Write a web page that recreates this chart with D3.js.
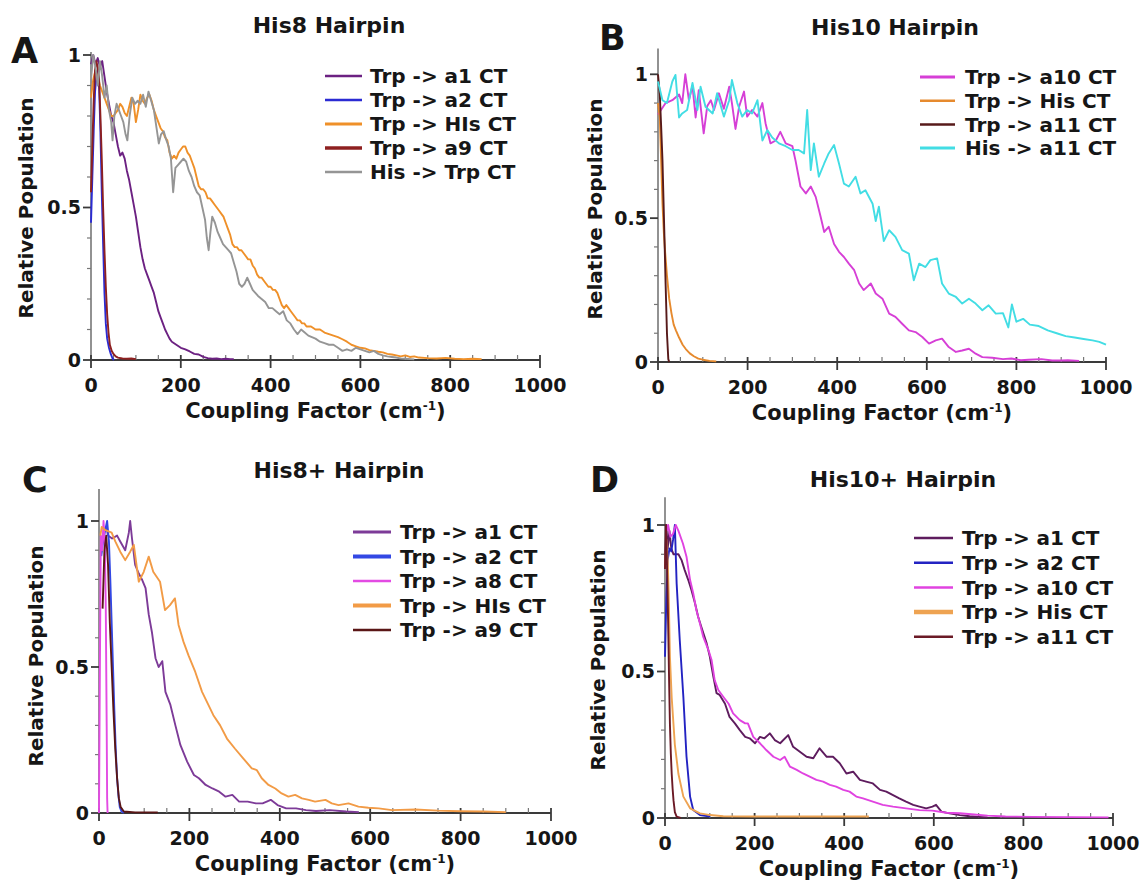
<!DOCTYPE html>
<html><head><meta charset="utf-8">
<script src="https://cdn.jsdelivr.net/npm/d3@7"></script>
<style>
body{margin:0;background:#fff;}
text{font-family:"DejaVu Sans",sans-serif;font-weight:bold;fill:#161616;}
</style></head><body>
<svg id="chart" width="1145" height="885"></svg>
<script>
// ---------------- DATA ----------------
const panelTitles = ["His8 Hairpin", "His10 Hairpin", "His8+ Hairpin", "His10+ Hairpin"];
const panelLetters = ["A", "B", "C", "D"];
const xTickValues = [0, 200, 400, 600, 800, 1000];
const xTickLabels = ["0", "200", "400", "600", "800", "1000"];
const yTickValues = [0, 0.5, 1];
const yTickLabels = ["0", "0.5", "1"];
const xAxisTitle = "Coupling Factor (cm";
const xAxisSup = "-1";
const yAxisTitle = "Relative Population";

const namesA = ["Trp -> a1 CT", "Trp -> a2 CT", "Trp -> HIs CT", "Trp -> a9 CT", "His -> Trp CT"];
const namesB = ["Trp -> a10 CT", "Trp -> His CT", "Trp -> a11 CT", "His -> a11 CT"];
const namesC = ["Trp -> a1 CT", "Trp -> a2 CT", "Trp -> a8 CT", "Trp -> HIs CT", "Trp -> a9 CT"];
const namesD = ["Trp -> a1 CT", "Trp -> a2 CT", "Trp -> a10 CT", "Trp -> His CT", "Trp -> a11 CT"];

// Panel A: [coupling factor, relative population]
const A_a1 = [[0,0.97],[5,1.0],[10,0.97],[15,0.99],[20,0.96],[25,0.98],[30,0.93],[35,0.88],[40,0.84],[45,0.8],[50,0.78],[55,0.74],[60,0.7],[65,0.67],[70,0.68],[75,0.66],[80,0.62],[85,0.59],[90,0.55],[95,0.51],[100,0.47],[105,0.42],[110,0.37],[115,0.33],[120,0.3],[125,0.28],[130,0.26],[135,0.24],[140,0.22],[145,0.19],[150,0.16],[155,0.14],[160,0.12],[165,0.1],[170,0.085],[175,0.07],[180,0.06],[185,0.055],[190,0.05],[195,0.045],[200,0.04],[210,0.035],[220,0.028],[230,0.02],[240,0.018],[250,0.01],[260,0.006],[270,0.004],[280,0.005],[290,0.003],[300,0.004],[310,0.003],[318,0.003]];
const A_a2 = [[0,0.45],[3,0.6],[6,0.75],[9,0.88],[12,0.93],[15,0.95],[18,0.9],[21,0.75],[24,0.55],[27,0.38],[30,0.22],[33,0.12],[36,0.07],[40,0.04],[44,0.02],[48,0.005],[51,0]];
const A_his = [[0,0.86],[5,0.92],[10,0.95],[15,0.93],[20,0.9],[25,0.88],[30,0.86],[35,0.84],[40,0.82],[45,0.8],[50,0.8],[55,0.81],[60,0.82],[65,0.84],[70,0.83],[75,0.81],[80,0.8],[85,0.83],[90,0.86],[95,0.84],[100,0.78],[105,0.82],[110,0.87],[115,0.85],[120,0.84],[125,0.86],[130,0.87],[135,0.85],[140,0.82],[145,0.8],[150,0.78],[155,0.76],[160,0.75],[165,0.73],[170,0.72],[175,0.68],[180,0.66],[185,0.67],[190,0.66],[195,0.68],[200,0.69],[205,0.7],[210,0.7],[215,0.68],[220,0.67],[225,0.65],[230,0.63],[235,0.6],[240,0.57],[245,0.56],[250,0.56],[255,0.55],[260,0.53],[265,0.53],[270,0.52],[275,0.51],[280,0.5],[285,0.49],[290,0.48],[295,0.47],[300,0.45],[305,0.43],[310,0.41],[315,0.38],[320,0.37],[325,0.37],[330,0.36],[335,0.36],[340,0.35],[345,0.34],[350,0.33],[355,0.33],[360,0.31],[365,0.3],[370,0.28],[375,0.27],[380,0.27],[385,0.26],[390,0.25],[395,0.24],[400,0.24],[405,0.23],[410,0.23],[415,0.22],[420,0.2],[425,0.18],[430,0.17],[435,0.18],[440,0.17],[445,0.16],[450,0.15],[455,0.14],[460,0.13],[465,0.13],[470,0.12],[475,0.12],[480,0.11],[490,0.11],[500,0.1],[510,0.1],[520,0.09],[530,0.085],[540,0.08],[550,0.075],[560,0.068],[570,0.06],[580,0.05],[590,0.045],[600,0.04],[610,0.038],[620,0.032],[630,0.03],[640,0.027],[650,0.025],[660,0.02],[670,0.018],[680,0.015],[690,0.012],[700,0.015],[710,0.01],[720,0.012],[730,0.008],[750,0.006],[770,0.005],[790,0.007],[810,0.004],[830,0.003],[850,0.004],[870,0.003]];
const A_a9 = [[0,0.55],[3,0.7],[6,0.85],[9,0.95],[12,0.98],[15,0.96],[18,0.92],[21,0.8],[24,0.66],[27,0.5],[30,0.36],[33,0.24],[36,0.15],[39,0.09],[42,0.05],[46,0.03],[50,0.02],[55,0.012],[60,0.008],[70,0.005],[80,0.004],[90,0.005],[100,0.003]];
const A_hisTrp = [[0,0.92],[5,1.0],[10,0.96],[15,0.9],[20,0.98],[25,0.93],[30,0.86],[35,0.9],[40,0.82],[45,0.78],[48,0.72],[52,0.8],[57,0.84],[62,0.82],[67,0.8],[72,0.78],[77,0.74],[81,0.72],[86,0.8],[92,0.86],[98,0.84],[104,0.85],[110,0.84],[116,0.87],[122,0.83],[128,0.88],[134,0.85],[140,0.82],[146,0.76],[151,0.71],[156,0.74],[162,0.75],[168,0.72],[173,0.7],[178,0.66],[183,0.55],[188,0.63],[194,0.64],[200,0.65],[206,0.66],[212,0.65],[218,0.62],[224,0.6],[230,0.57],[236,0.55],[242,0.54],[248,0.5],[254,0.46],[258,0.4],[262,0.36],[266,0.42],[270,0.47],[276,0.45],[282,0.42],[288,0.4],[294,0.38],[300,0.37],[306,0.36],[312,0.35],[318,0.32],[324,0.29],[330,0.25],[336,0.24],[342,0.25],[348,0.27],[354,0.25],[360,0.23],[366,0.22],[372,0.21],[380,0.2],[388,0.19],[396,0.17],[404,0.17],[412,0.16],[420,0.15],[428,0.16],[436,0.13],[444,0.12],[452,0.1],[460,0.085],[468,0.1],[476,0.09],[484,0.08],[492,0.075],[500,0.07],[510,0.06],[520,0.055],[530,0.05],[540,0.05],[550,0.04],[560,0.03],[570,0.035],[580,0.03],[590,0.04],[600,0.035],[610,0.03],[620,0.025],[630,0.03],[640,0.02],[650,0.015],[660,0.012],[670,0.01],[680,0.008],[690,0.005],[700,0.004],[720,0.002]];

// Panel B
const B_a10 = [[0,0.86],[17,0.9],[32,0.91],[47,0.93],[54,0.9],[61,1.0],[69,0.91],[77,0.96],[84,0.85],[91,0.945],[102,0.795],[110,0.89],[118,0.91],[125,0.876],[136,0.934],[147,0.88],[159,0.957],[165,0.9],[173,0.81],[181,0.887],[192,0.94],[199,0.853],[210,0.876],[222,0.853],[233,0.9],[240,0.83],[251,0.76],[263,0.77],[273,0.8],[285,0.76],[300,0.75],[307,0.7],[318,0.61],[330,0.586],[341,0.61],[352,0.574],[363,0.505],[371,0.452],[381,0.47],[393,0.41],[404,0.383],[415,0.365],[426,0.342],[438,0.319],[449,0.273],[459,0.25],[475,0.273],[486,0.238],[501,0.22],[516,0.168],[530,0.157],[545,0.133],[560,0.11],[575,0.104],[590,0.087],[605,0.064],[620,0.075],[634,0.081],[649,0.052],[665,0.035],[679,0.04],[694,0.046],[709,0.029],[724,0.017],[746,0.015],[770,0.01],[789,0.012],[810,0.006],[827,0.008],[856,0.01],[880,0.005],[901,0.005],[915,0.006],[940,0.004]];
const B_his = [[0,0.9],[4,0.85],[7,0.7],[10,0.55],[13,0.45],[16,0.38],[20,0.3],[25,0.22],[30,0.17],[35,0.13],[40,0.11],[47,0.085],[55,0.06],[62,0.045],[71,0.03],[80,0.02],[90,0.012],[100,0.008],[115,0.004],[130,0.002]];
const B_a11 = [[0,1.0],[4,0.93],[7,0.82],[10,0.7],[14,0.46],[17,0.27],[20,0.1],[23,0.01],[25,0]];
const B_hisA11 = [[0,0.975],[10,0.91],[20,0.9],[32,0.975],[39,0.998],[47,0.85],[54,0.864],[65,0.876],[77,0.97],[88,0.876],[95,0.957],[106,0.887],[122,0.864],[132,0.934],[147,0.853],[159,0.91],[165,0.98],[177,0.9],[188,0.853],[199,0.876],[210,0.864],[222,0.91],[233,0.77],[244,0.806],[255,0.78],[270,0.76],[285,0.75],[300,0.737],[314,0.737],[326,0.725],[333,0.876],[341,0.667],[348,0.76],[359,0.644],[371,0.69],[381,0.725],[393,0.754],[404,0.69],[415,0.62],[426,0.61],[441,0.644],[452,0.586],[463,0.597],[479,0.55],[486,0.49],[493,0.54],[504,0.42],[516,0.458],[530,0.435],[545,0.389],[560,0.377],[571,0.284],[583,0.342],[597,0.33],[608,0.354],[623,0.36],[634,0.273],[649,0.238],[665,0.226],[679,0.203],[694,0.22],[709,0.203],[724,0.18],[738,0.197],[754,0.168],[770,0.17],[782,0.12],[790,0.2],[800,0.14],[815,0.15],[830,0.13],[850,0.125],[870,0.11],[890,0.1],[910,0.09],[930,0.085],[950,0.08],[970,0.075],[985,0.07],[1000,0.06]];

// Panel C
const C_a1 = [[11,0.97],[16,0.98],[20,0.95],[29,0.94],[40,0.95],[47,0.93],[58,0.9],[66,0.96],[69,1.0],[73,0.94],[80,0.85],[88,0.82],[95,0.8],[103,0.77],[110,0.68],[117,0.62],[125,0.53],[132,0.5],[140,0.52],[147,0.415],[158,0.37],[169,0.3],[180,0.233],[195,0.176],[210,0.13],[221,0.119],[236,0.096],[251,0.084],[266,0.073],[280,0.056],[295,0.062],[310,0.039],[329,0.039],[347,0.033],[362,0.033],[380,0.045],[395,0.027],[414,0.016],[436,0.016],[458,0.01],[480,0.007],[510,0.01],[547,0.005],[575,0.003]];
const C_a2 = [[5,0.88],[10,0.94],[14,0.97],[18,1.0],[22,0.93],[25,0.8],[28,0.65],[31,0.5],[34,0.35],[37,0.22],[40,0.12],[43,0.06],[46,0.02],[50,0.005],[55,0]];
const C_a8 = [[0,0],[2,0.5],[4,0.95],[7,0.9],[10,1.0],[13,0.92],[15,0.7],[17,0.3],[18,0.05],[19,0]];
const C_his = [[3,0.95],[6,0.98],[13,0.97],[28,0.96],[36,0.93],[47,0.895],[58,0.866],[69,0.895],[77,0.918],[84,0.838],[88,0.792],[99,0.826],[110,0.878],[120,0.826],[135,0.792],[146,0.695],[157,0.712],[168,0.735],[176,0.644],[187,0.586],[198,0.54],[213,0.483],[228,0.415],[242,0.37],[253,0.335],[268,0.3],[283,0.255],[301,0.22],[319,0.187],[338,0.153],[349,0.147],[360,0.119],[375,0.096],[390,0.084],[404,0.067],[419,0.056],[434,0.062],[449,0.05],[464,0.045],[478,0.039],[501,0.045],[515,0.033],[530,0.027],[552,0.033],[574,0.022],[596,0.018],[619,0.016],[648,0.01],[700,0.012],[750,0.008],[800,0.006],[850,0.005],[900,0.003]];
const C_a9 = [[8,0.7],[12,0.9],[16,0.95],[20,0.85],[24,0.65],[28,0.5],[32,0.35],[36,0.22],[40,0.12],[44,0.05],[48,0.02],[55,0.005],[80,0.002],[130,0.002]];

// Panel D
const D_a1 = [[0,0.85],[3,1.0],[6,0.92],[10,0.98],[14,0.92],[19,0.9],[30,0.9],[37,0.88],[44,0.846],[52,0.812],[59,0.778],[67,0.733],[74,0.687],[81,0.653],[93,0.596],[100,0.551],[108,0.482],[115,0.426],[122,0.42],[134,0.39],[144,0.345],[156,0.323],[167,0.3],[179,0.277],[189,0.272],[201,0.255],[212,0.277],[222,0.272],[234,0.289],[245,0.266],[257,0.255],[275,0.283],[286,0.243],[301,0.226],[316,0.209],[331,0.204],[345,0.238],[361,0.209],[375,0.209],[390,0.187],[405,0.152],[420,0.158],[435,0.13],[449,0.124],[464,0.118],[480,0.096],[494,0.09],[509,0.078],[523,0.067],[538,0.056],[554,0.045],[568,0.039],[583,0.033],[597,0.039],[605,0.045],[617,0.022],[635,0.016],[658,0.01],[680,0.006],[700,0.004],[720,0.002]];
const D_a2 = [[0,0.55],[3,0.75],[6,0.88],[10,0.92],[14,0.91],[18,0.95],[22,1.0],[26,0.8],[33,0.606],[41,0.413],[48,0.21],[56,0.073],[63,0.027],[78,0.01],[101,0.005]];
const D_a10 = [[4,0.98],[7,1.0],[12,0.96],[18,0.97],[24,1.0],[30,0.98],[40,0.937],[48,0.892],[56,0.812],[63,0.767],[70,0.71],[78,0.664],[85,0.62],[97,0.573],[104,0.539],[111,0.47],[119,0.437],[130,0.414],[142,0.39],[152,0.357],[167,0.334],[179,0.323],[185,0.323],[197,0.277],[212,0.255],[226,0.232],[242,0.209],[257,0.198],[267,0.209],[279,0.175],[294,0.164],[308,0.152],[323,0.141],[338,0.13],[353,0.124],[368,0.113],[382,0.107],[398,0.096],[412,0.09],[427,0.073],[442,0.067],[464,0.056],[486,0.045],[509,0.039],[538,0.033],[568,0.027],[597,0.025],[628,0.018],[658,0.016],[690,0.012],[720,0.008],[760,0.005],[820,0.004],[900,0.003],[990,0.002]];
const D_his = [[0,0.85],[3,0.95],[6,0.88],[8,0.78],[11,0.55],[15,0.41],[22,0.25],[30,0.15],[41,0.073],[56,0.033],[78,0.016],[101,0.01],[130,0.006],[200,0.005],[300,0.005],[455,0.005]];
const D_a11 = [[0,0.85],[2,1.0],[4,0.9],[6,0.75],[7.5,0.62],[9,0.48],[11,0.32],[13,0.22],[15,0.15],[17,0.1],[19,0.06],[22,0.02],[26,0.005],[35,0]];

// ---------------- LAYOUT / STYLE ----------------
const panels = [
  { names: namesA, series: [A_a1, A_a2, A_his, A_a9, A_hisTrp],
    colors: ["#6c2182", "#2b2bd3", "#ef9029", "#8e2020", "#959595"],
    legW: [2.5, 2.5, 3, 3.5, 2.5],
    left: 91, right: 540, y0: 360, y1: 55, ymax: 1.01,
    title: [329, 33], letter: [11, 63], ylab: [33, 208],
    leg: { x1: 325, x2: 362, tx: 370, y: 76, dy: 24 } },
  { names: namesB, series: [B_a10, B_his, B_a11, B_hisA11],
    colors: ["#d63fd6", "#e68a2e", "#571a1a", "#42dde4"],
    legW: [3, 2.5, 2.5, 3],
    left: 658, right: 1106, y0: 362, y1: 74.3, ymax: 1.09,
    title: [895, 35], letter: [599, 50], ylab: [602, 209],
    leg: { x1: 920, x2: 955, tx: 965, y: 77, dy: 23.7 } },
  { names: namesC, series: [C_a1, C_a2, C_a8, C_his, C_a9],
    colors: ["#7d3b98", "#3348e4", "#e34be3", "#f29b46", "#5a1616"],
    legW: [3, 4, 2.5, 4, 2.5],
    left: 99, right: 551, y0: 813, y1: 521, ymax: 1.11,
    title: [339, 478], letter: [22, 492], ylab: [43, 656],
    leg: { x1: 353, x2: 391, tx: 400, y: 532, dy: 24.5 } },
  { names: namesD, series: [D_a1, D_a2, D_a10, D_his, D_a11],
    colors: ["#5e1c5e", "#2323c2", "#e043e0", "#eea352", "#6b1a26"],
    legW: [2.5, 2.5, 2.5, 4.5, 2.5],
    left: 665, right: 1113, y0: 818, y1: 525, ymax: 1.095,
    title: [903, 487], letter: [590, 492], ylab: [605, 660],
    leg: { x1: 914, x2: 953, tx: 962, y: 538, dy: 24.7 } }
];

const svg = d3.select("#chart");
svg.append("rect").attr("width", 1145).attr("height", 885).attr("fill", "#fff");

panels.forEach((p, i) => {
  const g = svg.append("g");
  const x = d3.scaleLinear().domain([0, 1000]).range([p.left, p.right]);
  const y = d3.scaleLinear().domain([0, 1]).range([p.y0, p.y1]);

  // axes
  const axisCol = "#3a3a3a";
  g.append("line").attr("x1", x(0)).attr("x2", x(1000)).attr("y1", y(0)).attr("y2", y(0))
    .attr("stroke", axisCol).attr("stroke-width", 1.8);
  g.append("line").attr("x1", x(0)).attr("x2", x(0)).attr("y1", y(0)).attr("y2", y(p.ymax))
    .attr("stroke", "#777").attr("stroke-width", 1.6);

  // x minor ticks
  d3.range(50, 1000, 50).filter(v => v % 200 !== 0).forEach(v => {
    g.append("line").attr("x1", x(v)).attr("x2", x(v)).attr("y1", y(0) - 5).attr("y2", y(0))
      .attr("stroke", "#777").attr("stroke-width", 1.2);
  });
  // x major ticks + labels
  xTickValues.forEach((v, k) => {
    g.append("line").attr("x1", x(v)).attr("x2", x(v)).attr("y1", y(0) - 5).attr("y2", y(0) + 8)
      .attr("stroke", axisCol).attr("stroke-width", 1.8);
    g.append("text").attr("x", x(v)).attr("y", y(0) + 32).attr("text-anchor", "middle")
      .attr("font-size", 19).text(xTickLabels[k]);
  });
  // y minor ticks
  d3.range(1, 10).map(k => k / 10).filter(v => Math.abs(v - 0.5) > 1e-6).forEach(v => {
    g.append("line").attr("x1", x(0) - 4).attr("x2", x(0)).attr("y1", y(v)).attr("y2", y(v))
      .attr("stroke", "#777").attr("stroke-width", 1.2);
  });
  // y major ticks + labels
  yTickValues.forEach((v, k) => {
    g.append("line").attr("x1", x(0) - 8).attr("x2", x(0)).attr("y1", y(v)).attr("y2", y(v))
      .attr("stroke", axisCol).attr("stroke-width", 1.8);
    g.append("text").attr("x", x(0) - 10).attr("y", y(v)).attr("dy", "0.36em")
      .attr("text-anchor", "end").attr("font-size", 19).text(yTickLabels[k]);
  });

  // data lines
  const line = d3.line().x(d => x(d[0])).y(d => y(d[1]));
  p.series.forEach((s, k) => {
    g.append("path").attr("d", line(s)).attr("fill", "none")
      .attr("stroke", p.colors[k]).attr("stroke-width", 1.9).attr("stroke-linejoin", "round");
  });

  // legend
  p.names.forEach((n, k) => {
    const ly = p.leg.y + k * p.leg.dy;
    g.append("line").attr("x1", p.leg.x1).attr("x2", p.leg.x2).attr("y1", ly).attr("y2", ly)
      .attr("stroke", p.colors[k]).attr("stroke-width", p.legW[k]);
    g.append("text").attr("x", p.leg.tx).attr("y", ly).attr("dy", "0.36em")
      .attr("font-size", 20).text(n);
  });

  // title, letter, axis titles
  g.append("text").attr("x", p.title[0]).attr("y", p.title[1]).attr("text-anchor", "middle")
    .attr("font-size", 22).text(panelTitles[i]);
  g.append("text").attr("x", p.letter[0]).attr("y", p.letter[1])
    .attr("font-size", 35).text(panelLetters[i]);
  g.append("text").attr("transform", `translate(${p.ylab[0]},${p.ylab[1]}) rotate(-90)`)
    .attr("text-anchor", "middle").attr("font-size", 20).text(yAxisTitle);
  const xl = g.append("text").attr("x", (p.left + p.right) / 2).attr("y", p.y0 + 58)
    .attr("text-anchor", "middle").attr("font-size", 21);
  xl.append("tspan").text(xAxisTitle);
  xl.append("tspan").attr("font-size", 12).attr("dy", -8).text(xAxisSup);
  xl.append("tspan").attr("dy", 8).text(")");
});
</script>
</body></html>
